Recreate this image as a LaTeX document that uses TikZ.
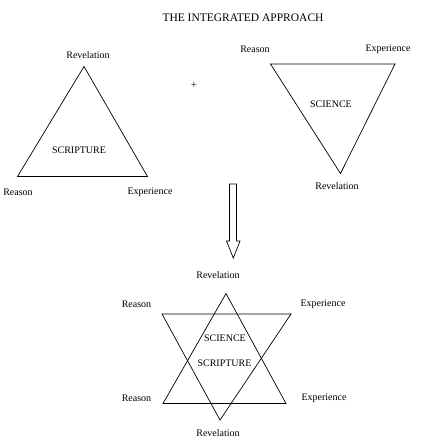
\documentclass[tikz,border=0pt]{standalone}
\usepackage{fontspec}
\setmainfont{Liberation Serif}

\begin{document}
\begin{tikzpicture}[x=1pt,y=-1pt,
  lbl/.style={font=\fontsize{10}{11}\selectfont,inner sep=0pt},
  tri/.style={draw,line width=0.7pt,line join=miter}]
\useasboundingbox (0,0) rectangle (425,447);
\node[font=\fontsize{11.5}{12}\selectfont,inner sep=0pt] (title) at (243,18) {THE INTEGRATED APPROACH};
% scripture triangle
\coordinate (sTop) at (84,66.5);
\coordinate (sLeft) at (17.5,176.5);
\coordinate (sRight) at (147.5,176.5);
\draw[tri] (sTop) -- (sLeft) -- (sRight) -- cycle;
\node[lbl] (sRev) at (88,55) {Revelation};
\node[lbl] (sRea) at (18,192.5) {Reason};
\node[lbl] (sExp) at (150,192.5) {Experience};
\node[lbl] (scripture) at (79,150) {SCRIPTURE};
\node[font=\fontsize{11}{12}\selectfont,inner sep=0pt] (plus) at (194,85) {+};
% science triangle
\coordinate (cLeft) at (270.5,64);
\coordinate (cRight) at (395,64);
\coordinate (cBot) at (340.5,173.5);
\draw[tri] (cLeft) -- (cRight) -- (cBot) -- cycle;
\node[lbl] (cRea) at (255,49) {Reason};
\node[lbl] (cExp) at (388,49) {Experience};
\node[lbl] (cRev) at (337,186.5) {Revelation};
\node[lbl] (science) at (331,104) {SCIENCE};
% hollow arrow
\coordinate (aTip) at (233.3,258);
\draw[tri] (229.5,184) -- (236.5,184) -- (236.5,241) -- (240,241) -- (aTip)
  -- (226.5,241) -- (229.5,241) -- cycle;
% combined star
\coordinate (uTop) at (226,293.5);
\coordinate (uLeft) at (163,403.5);
\coordinate (uRight) at (286,403.5);
\coordinate (dLeft) at (162,314);
\coordinate (dRight) at (291,314);
\coordinate (dBot) at (220,420);
\draw[tri] (uTop) -- (uLeft) -- (uRight) -- cycle;
\draw[tri] (dLeft) -- (dRight) -- (dBot) -- cycle;
\node[lbl] (tRev) at (218,275) {Revelation};
\node[lbl] (tRea) at (136.5,304) {Reason};
\node[lbl] (tExp) at (323,304) {Experience};
\node[lbl] (bRea) at (136.5,398.5) {Reason};
\node[lbl] (bExp) at (324,398.5) {Experience};
\node[lbl] (bRev) at (218,433.5) {Revelation};
\node[lbl] (starSci) at (225,338.5) {SCIENCE};
\node[lbl] (starScr) at (224.5,363.5) {SCRIPTURE};
\end{tikzpicture}
\end{document}
